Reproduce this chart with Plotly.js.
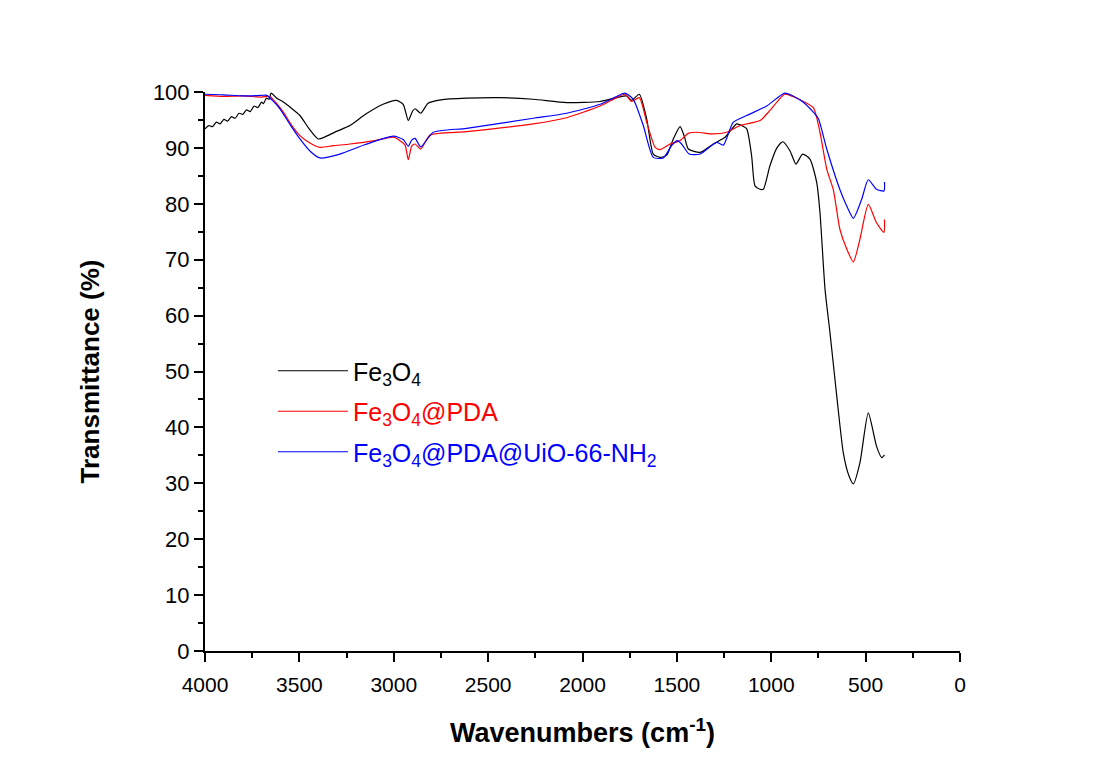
<!DOCTYPE html>
<html>
<head>
<meta charset="utf-8">
<script src="https://cdn.plot.ly/plotly-3.0.1.min.js"></script>
<style>body{margin:0;background:#fff}#chart{width:1100px;height:772px}</style>
</head>
<body>
<div id="chart"></div>
<script>
// Wavenumbers (cm-1) and transmittance (%)
const wnFe3O4 = [4000,3980,3960,3940,3920,3900,3880,3860,3840,3820,3800,3780,3760,3740,3720,3700,3690,3675,3660,3650,3620,3585,3550,3497,3450,3400,3350,3300,3232,3150,3057,2985,2950,2923,2900,2887,2857,2818,2750,2614,2437,2261,2084,1907,1819,1766,1740,1699,1660,1625,1589,1554,1520,1483,1460,1439,1377,1307,1245,1183,1157,1130,1104,1086,1060,1042,1007,970,939,901,869,834,795,759,742,715,689,653,618,590,565,530,486,442,415,400];
const tFe3O4  = [93.4,94.0,93.8,94.6,94.3,95.1,94.8,95.6,95.3,96.2,96.0,96.8,96.5,97.5,97.2,98.2,97.9,98.9,98.7,99.8,98.9,98.2,97.3,95.8,93.5,91.6,92.2,93.0,94.0,96.0,97.8,98.5,97.8,94.9,96.6,97.0,96.2,98.0,98.6,98.9,99.0,98.7,98.1,98.3,99.0,99.3,98.5,99.6,95.2,88.9,88.3,88.7,91.5,93.8,92.0,89.8,89.2,90.7,91.9,94.3,94.0,93.4,88.6,83.2,82.6,82.6,86.8,90.0,91.1,89.5,87.1,88.9,88.0,83.8,78.5,64.7,57.0,45.6,35.4,31.5,29.9,33.7,42.6,36.6,34.6,35.1];

const wnPDA = [4000,3900,3800,3700,3656,3620,3585,3540,3497,3440,3391,3320,3232,3100,3002,2967,2940,2923,2905,2887,2857,2808,2614,2261,2084,1907,1819,1775,1740,1699,1660,1615,1589,1536,1483,1440,1395,1307,1236,1165,1059,1007,960,927,848,777,742,706,671,636,600,565,530,486,442,403,400];
const tPDA  = [99.4,99.2,99.3,99.1,99.2,97.9,96.4,94.0,92.2,90.8,90.1,90.4,90.7,91.3,91.9,91.3,90.5,87.9,90.3,90.7,89.8,92.3,92.9,94.3,95.4,97.5,99.0,99.6,98.3,99.0,94.6,90.1,89.7,90.7,91.3,92.6,92.8,92.5,92.8,94.0,94.9,96.7,98.6,99.6,98.6,97.2,92.8,86.2,82.5,75.4,71.9,69.6,73.7,79.9,76.6,74.9,77.2];

const wnUiO = [4000,3900,3800,3700,3673,3640,3603,3550,3497,3440,3391,3285,3150,3002,2950,2923,2905,2887,2857,2790,2614,2261,2084,1907,1819,1775,1731,1678,1625,1572,1528,1498,1475,1435,1377,1289,1254,1201,1130,1024,927,848,777,750,706,636,600,565,521,486,442,403,400];
const tUiO  = [99.6,99.5,99.3,99.4,99.4,98.4,97.0,94.2,91.6,89.3,88.2,88.9,90.6,92.1,91.5,90.3,91.4,91.7,90.2,92.8,93.5,95.3,96.2,97.8,99.2,99.8,98.7,94.0,88.3,88.2,90.4,91.3,90.7,88.9,88.9,91.0,90.5,94.6,95.8,97.5,99.8,98.6,96.4,95.2,89.8,82.5,79.6,77.4,80.8,84.3,82.6,82.3,83.9];

const seriesNames = [
  '<span style="color:#000000">Fe<sub>3</sub>O<sub>4</sub></span>',
  '<span style="color:#ff0000">Fe<sub>3</sub>O<sub>4</sub>@PDA</span>',
  '<span style="color:#0000ff">Fe<sub>3</sub>O<sub>4</sub>@PDA@UiO-66-NH<sub>2</sub></span>'
];
const seriesColors = ['#000000', '#ff0000', '#0000ff'];
const xTickVals = [4000,3500,3000,2500,2000,1500,1000,500,0];
const yTickVals = [0,10,20,30,40,50,60,70,80,90,100];

const data = [[wnFe3O4, tFe3O4], [wnPDA, tPDA], [wnUiO, tUiO]];
const traces = data.map((d, i) => ({
  type: 'scatter', mode: 'lines', x: d[0], y: d[1], name: seriesNames[i],
  legendgroup: 'g' + i,
  line: {color: seriesColors[i], width: 1.2, shape: 'spline', smoothing: 0.6}
}));

const font = {family: 'Arial, "Liberation Sans", sans-serif', color: '#000'};

const layout = {
  width: 1100, height: 772,
  paper_bgcolor: '#ffffff', plot_bgcolor: '#ffffff',
  margin: {l: 205, r: 140, t: 92, b: 121},
  font: Object.assign({size: 20}, font),
  showlegend: true,
  legend: {x: 0.09, y: 0.542, xanchor: 'left', yanchor: 'top', bgcolor: 'rgba(0,0,0,0)',
           font: Object.assign({size: 25}, font), itemwidth: 70, tracegroupgap: 5},
  xaxis: {
    range: [4000, 0], autorange: false,
    tickvals: xTickVals, ticktext: xTickVals.map(String),
    ticks: 'outside', ticklen: 9, tickwidth: 2, tickcolor: '#000',
    ticklabelstandoff: 5,
    minor: {dtick: 250, tick0: 0, ticks: 'outside', ticklen: 5, tickwidth: 2, tickcolor: '#000'},
    showline: true, linecolor: '#000', linewidth: 2, showgrid: false, zeroline: false,
    tickfont: Object.assign({size: 21}, font),
    title: {text: '<b>Wavenumbers (cm<sup>-1</sup>)</b>', font: Object.assign({size: 27}, font), standoff: 28}
  },
  yaxis: {
    range: [0, 100], autorange: false,
    tickvals: yTickVals, ticktext: yTickVals.map(String),
    ticks: 'outside', ticklen: 9, tickwidth: 2, tickcolor: '#000',
    minor: {dtick: 5, tick0: 0, ticks: 'outside', ticklen: 5, tickwidth: 2, tickcolor: '#000'},
    showline: true, linecolor: '#000', linewidth: 2, showgrid: false, zeroline: false,
    tickfont: Object.assign({size: 22}, font),
    title: {text: '<b>Transmittance (%)</b>', font: Object.assign({size: 26}, font), standoff: 46}
  }
};

Plotly.newPlot('chart', traces, layout, {displayModeBar: false, staticPlot: true});
</script>
</body>
</html>
